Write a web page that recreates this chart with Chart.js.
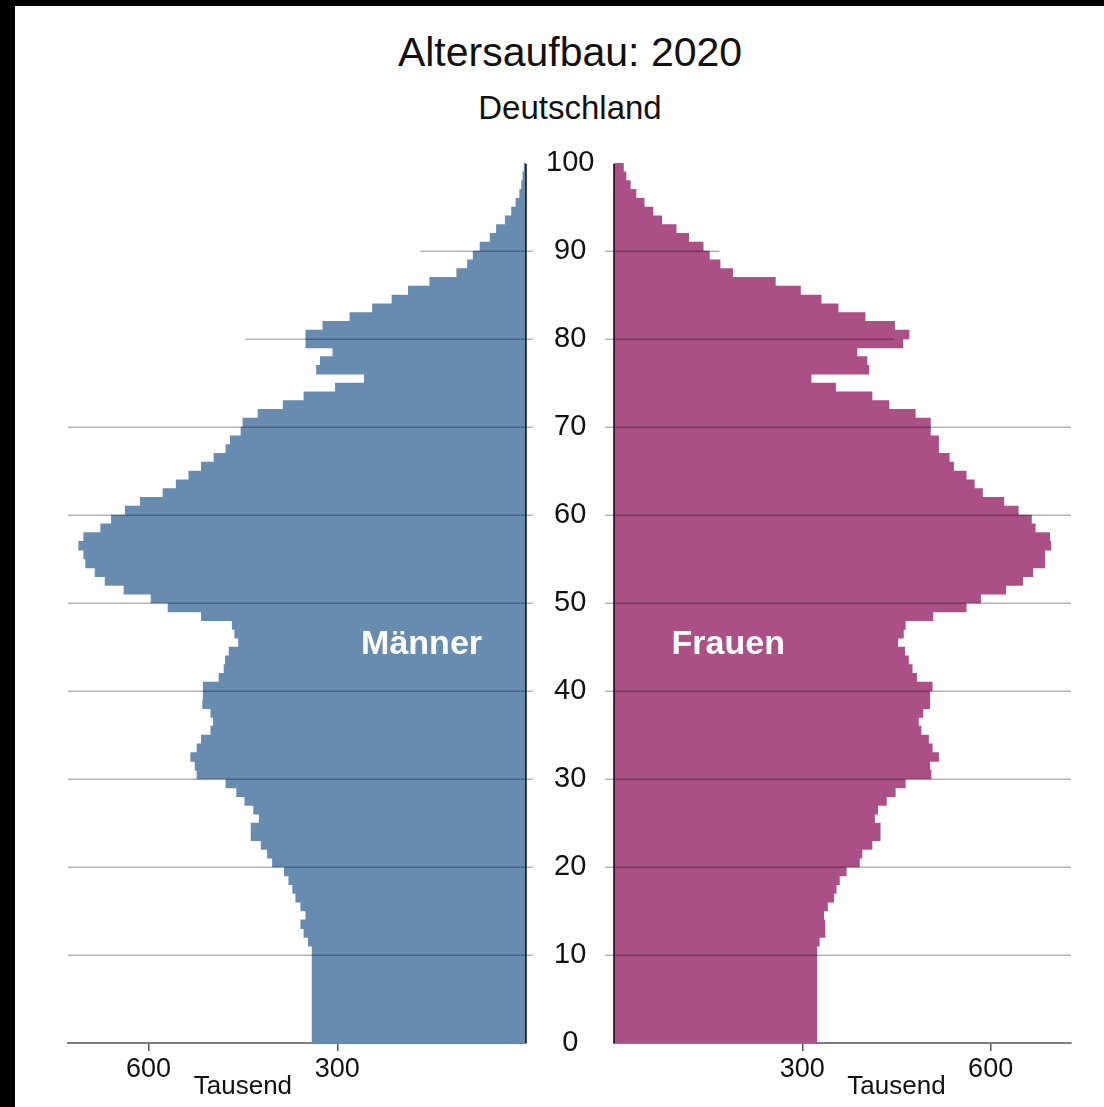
<!DOCTYPE html>
<html>
<head>
<meta charset="utf-8">
<title>Altersaufbau 2020</title>
<script src="https://cdn.jsdelivr.net/npm/chart.js@4.4.0/dist/chart.umd.min.js"></script>
<style>
  html, body { margin: 0; padding: 0; background: #fff; }
  body { width: 1104px; height: 1107px; position: relative; overflow: hidden; font-family: 'Liberation Sans', Arial, sans-serif; color: #111; }
  .frame { position: absolute; background: #000; }
  .head { position: absolute; left: 0; width: 1140px; text-align: center; line-height: 1; white-space: nowrap; }
  #title { top: 32px; font-size: 41px; }
  #subtitle { top: 91px; font-size: 33px; }
  canvas { position: absolute; top: 0; }
  #maleChart { left: 0; }
  #femaleChart { left: 570px; }
</style>
</head>
<body>
<div class="frame" style="left:0;top:0;width:15px;height:1107px;"></div>
<div class="frame" style="left:0;top:0;width:1104px;height:6px;"></div>
<div class="head" id="title">Altersaufbau: 2020</div>
<div class="head" id="subtitle">Deutschland</div>
<canvas id="maleChart" width="614" height="1107"></canvas>
<canvas id="femaleChart" width="534" height="1107"></canvas>
<script>
// Alter 0..99, Bevölkerung in Tausend
const ages = Array.from({ length: 100 }, (_, i) => i);
const maleValues = [
  340, 340, 340, 340, 340, 340, 340, 340, 340, 340,
  340, 346, 353, 358, 350, 358, 366, 371, 377, 384,
  403, 411, 421, 437, 437, 424, 433, 447, 460, 477,
  523, 526, 533, 523, 516, 501, 497, 501, 514, 513,
  513, 488, 480, 478, 472, 457, 463, 467, 516, 569,
  596, 639, 669, 685, 700, 703, 711, 703, 676, 659,
  637, 613, 577, 556, 536, 516, 496, 477, 470, 453,
  450, 426, 386, 353, 303, 257, 333, 327, 307, 350,
  350, 323, 280, 244, 213, 187, 153, 110, 93, 84,
  73, 57, 47, 33, 23, 16, 10, 7, 5, 3
];
const femaleValues = [
  323, 323, 323, 323, 323, 323, 323, 323, 323, 323,
  323, 327, 336, 336, 334, 340, 350, 354, 359, 370,
  391, 395, 411, 424, 424, 415, 420, 434, 448, 464,
  505, 503, 517, 507, 501, 489, 485, 492, 503, 503,
  507, 482, 475, 469, 463, 452, 461, 464, 508, 561,
  584, 624, 651, 667, 686, 686, 696, 694, 671, 665,
  644, 621, 587, 574, 561, 541, 534, 517, 517, 504,
  504, 480, 438, 411, 353, 314, 406, 403, 387, 460,
  470, 447, 400, 357, 330, 297, 257, 189, 169, 152,
  142, 119, 99, 76, 62, 48, 35, 26, 19, 15
];
const ageTicks = [0, 10, 20, 30, 40, 50, 60, 70, 80, 90, 100];
// how far (in Tausend) each horizontal guide line reaches out from the centre
const guideReach = [0, 728, 728, 728, 728, 728, 728, 728, 446, 168, 0];
const valueTicks = [300, 600];
const valueMax = 728;
const unitLabel = 'Tausend';
const unitAt = 450;
const sexLabels = { male: 'Männer', female: 'Frauen' };
const sexLabelPos = { male: [166, 45.3], female: [182, 45.3] };

const FONT = "'Liberation Sans', Arial, sans-serif";
const maleColor = '#688cb0';
const femaleColor = '#aa5087';

function toPoints(values) {
  return values.map((v, i) => ({ x: v, y: ages[i] + 0.5 }));
}

// guide lines, zero axis and in-chart labels
function overlayPlugin(side) {
  return {
    id: 'overlay_' + side,
    afterDatasetsDraw(chart) {
      const ctx = chart.ctx;
      const area = chart.chartArea;
      const xs = chart.scales.x;
      const ys = chart.scales.y;
      ctx.save();
      ctx.lineWidth = 1.5;
      ctx.strokeStyle = 'rgba(0,0,0,0.3)';
      ageTicks.forEach((age, i) => {
        const reach = guideReach[i];
        if (!reach) return;
        const y = Math.round(ys.getPixelForValue(age)) + 0.25;
        const xFar = xs.getPixelForValue(Math.min(reach, valueMax));
        const xNear = side === 'male' ? area.right + 7 : area.left - 9;
        ctx.beginPath();
        ctx.moveTo(xFar, y);
        ctx.lineTo(xNear, y);
        ctx.stroke();
      });
      // zero axis
      ctx.lineWidth = 2;
      ctx.strokeStyle = 'rgba(0,0,0,0.72)';
      const x0 = xs.getPixelForValue(0);
      ctx.beginPath();
      ctx.moveTo(x0, area.top + 1);
      ctx.lineTo(x0, area.bottom);
      ctx.stroke();
      // sex label
      const pos = sexLabelPos[side];
      ctx.fillStyle = '#fff';
      ctx.font = 'bold 34px ' + FONT;
      ctx.textAlign = 'center';
      ctx.textBaseline = 'middle';
      ctx.fillText(sexLabels[side], xs.getPixelForValue(pos[0]), ys.getPixelForValue(pos[1]));
      // unit label under the axis
      ctx.fillStyle = '#111';
      ctx.font = '26px ' + FONT;
      ctx.fillText(unitLabel, xs.getPixelForValue(unitAt), area.bottom + 44);
      ctx.restore();
    }
  };
}

function makeChart(id, side, values, color) {
  const isMale = side === 'male';
  return new Chart(document.getElementById(id), {
    type: 'bar',
    data: {
      datasets: [{
        data: toPoints(values),
        backgroundColor: color,
        borderWidth: 0,
        barPercentage: 1,
        categoryPercentage: 1
      }]
    },
    options: {
      indexAxis: 'y',
      responsive: false,
      animation: false,
      events: [],
      layout: { padding: isMale ? { left: 68, top: 163, right: 0, bottom: 0 } : { left: 44, top: 163, right: 33, bottom: 0 } },
      plugins: { legend: { display: false }, tooltip: { enabled: false }, title: { display: false } },
      scales: {
        x: {
          type: 'linear',
          reverse: isMale,
          min: 0,
          max: valueMax,
          afterBuildTicks: (s) => { s.ticks = valueTicks.map(v => ({ value: v })); },
          afterFit: (s) => { s.height = 64; },
          grid: { drawOnChartArea: false, drawTicks: true, tickLength: 8, color: '#555', lineWidth: 1.5 },
          border: { display: true, color: '#7d7d7d', width: 2 },
          ticks: { color: '#111', font: { family: FONT, size: 27 }, padding: 2, maxRotation: 0 }
        },
        y: {
          type: 'linear',
          display: isMale,
          position: 'right',
          offset: false,
          min: 0,
          max: 100,
          afterBuildTicks: (s) => { s.ticks = ageTicks.map(v => ({ value: v })); },
          afterFit: (s) => { s.width = isMale ? 88 : 0; },
          grid: { display: false, drawTicks: false, offset: false },
          border: { display: false },
          ticks: { color: '#111', font: { family: FONT, size: 29 }, padding: 20, crossAlign: 'center' }
        }
      }
    },
    plugins: [overlayPlugin(side)]
  });
}

makeChart('maleChart', 'male', maleValues, maleColor);
makeChart('femaleChart', 'female', femaleValues, femaleColor);
</script>
</body>
</html>
